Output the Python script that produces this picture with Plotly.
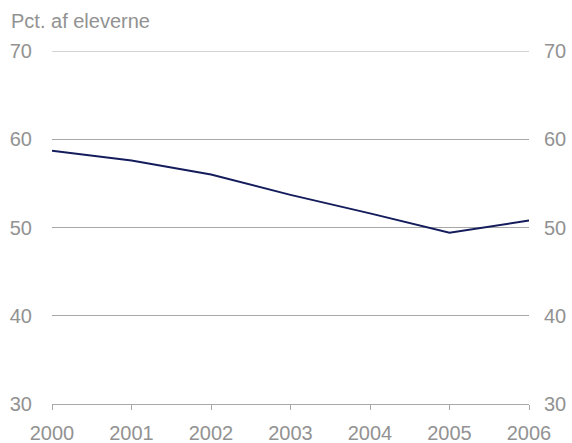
import plotly.graph_objects as go

years = [2000, 2001, 2002, 2003, 2004, 2005, 2006]
values = [58.7, 57.6, 56.0, 53.7, 51.6, 49.4, 50.8]
y_ticks = [30, 40, 50, 60, 70]
y_title = "Pct. af eleverne"

txt = "#929292"
grid = "#a8a8a8"
font = dict(family="Liberation Sans, Arial, sans-serif", size=20, color=txt)

fig = go.Figure()
fig.add_trace(go.Scatter(x=years, y=values, mode="lines",
                         line=dict(color="#141c5c", width=2), showlegend=False))
fig.add_trace(go.Scatter(x=years, y=values, mode="lines", yaxis="y2",
                         line=dict(color="rgba(0,0,0,0)", width=0), showlegend=False,
                         hoverinfo="skip"))

fig.update_layout(
    width=572, height=443,
    margin=dict(l=52, r=43, t=51, b=39, autoexpand=False),
    paper_bgcolor="white", plot_bgcolor="white",
    font=font,
    xaxis=dict(range=[2000, 2006], tickvals=years, ticktext=[str(y) for y in years],
               showgrid=False, zeroline=False, showline=True, linecolor=grid, linewidth=1,
               ticks="outside", ticklen=5, tickcolor=grid, tickfont=font,
               ticklabelstandoff=6, automargin=False),
    yaxis=dict(range=[30, 70], tickvals=y_ticks, showgrid=True, gridcolor=grid, gridwidth=1,
               zeroline=False, showline=False, ticks="", tickfont=font,
               ticklabelstandoff=19, automargin=False),
    yaxis2=dict(range=[30, 70], tickvals=y_ticks, overlaying="y", side="right",
                showgrid=False, zeroline=False, showline=False, ticks="", tickfont=font,
                ticklabelstandoff=14, automargin=False),
    shapes=[dict(type="line", xref="paper", yref="y", x0=0, x1=1,
                 y0=y_ticks[-1], y1=y_ticks[-1], line=dict(color=grid, width=1))],
    annotations=[dict(text=y_title, xref="paper", yref="paper", x=0, y=1,
                      xshift=-43, yshift=17, xanchor="left", yanchor="bottom",
                      showarrow=False, font=font)],
)

fig.write_html("out.html", config={"displayModeBar": False},
               post_script="document.body.style.margin='0';")
